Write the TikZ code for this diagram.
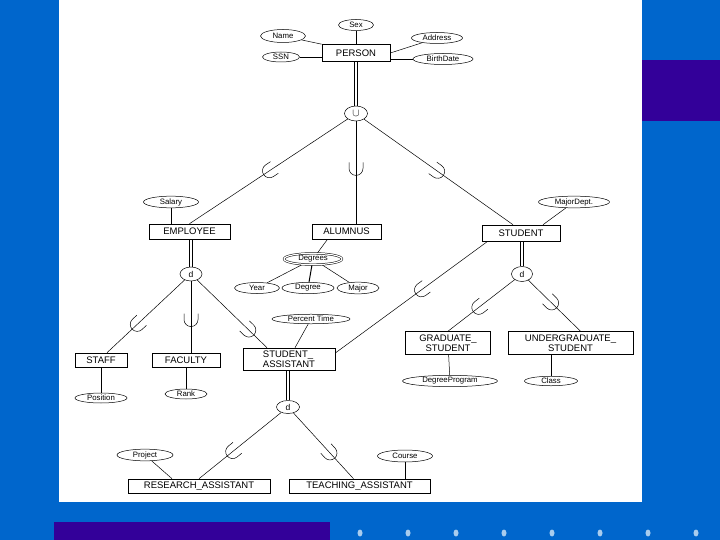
\documentclass[tikz,border=0pt]{standalone}
\usepackage{fontspec}
\setmainfont{Liberation Sans}
\usetikzlibrary{shapes.geometric}
\definecolor{slideblue}{HTML}{0066CC}
\definecolor{slidepurple}{HTML}{330099}
\definecolor{slidedot}{HTML}{A8CCEE}
\pgfdeclarelayer{links}
\pgfsetlayers{links,main}
\tikzset{
  subclassmark/.pic={\draw[line width=0.5pt] (-7,7) -- (-1,7) arc[start angle=90,end angle=-90,radius=7] -- (-7,-7);}
}

\begin{document}
\begin{tikzpicture}[x=1pt,y=1pt,
  entity/.style={draw,fill=white,line width=0.6pt,rectangle,inner sep=0pt,font=\fontsize{9.5}{10.5}\selectfont},
  attr/.style={draw,fill=white,line width=0.5pt,ellipse,inner sep=0.5pt,font=\fontsize{7.8}{8}\selectfont},
  disj/.style={draw,fill=white,line width=0.5pt,ellipse,inner sep=0pt,font=\fontsize{8.5}{8.5}\selectfont},
  link/.style={line width=0.5pt},
  dbl/.style={double,double distance=2.2pt,line width=0.55pt},
  sub/.style={pos=#1,sloped,allow upside down}]
  % slide background
  \begin{pgfonlayer}{links}
  \fill[slideblue] (0,0) rectangle (720,-540);
  \fill[white] (59,0) rectangle (642,-502);
  \fill[slidepurple] (642,-60) rectangle (720,-121);
  \fill[slidepurple] (54,-522) rectangle (330,-540);
  \foreach \i in {0,...,7}
    \fill[slidedot] ({360+48*\i},-533) ellipse (2.5 and 3.5);
  \end{pgfonlayer}

  % entities
  \node[entity,minimum width=68,minimum height=17] (person) at (356,-53) {PERSON};
  \node[entity,minimum width=81,minimum height=15] (employee) at (189.5,-231.5) {EMPLOYEE};
  \node[entity,minimum width=69,minimum height=15] (alumnus) at (346.5,-231.5) {ALUMNUS};
  \node[entity,minimum width=78,minimum height=16] (student) at (521,-233) {STUDENT};
  \node[entity,minimum width=52,minimum height=14] (staff) at (101,-360) {STAFF};
  \node[entity,minimum width=68,minimum height=14] (faculty) at (186,-360) {FACULTY};
  \node[entity,minimum width=92,minimum height=22,align=left] (stuasst) at (289,-359) {STUDENT\_\\ASSISTANT};
  \node[entity,minimum width=85,minimum height=23,align=center] (grad) at (448,-343) {GRADUATE\_\\STUDENT};
  \node[entity,minimum width=125,minimum height=23,align=center] (undergrad) at (570.5,-343) {UNDERGRADUATE\_\\STUDENT};
  \node[entity,minimum width=142,minimum height=14] (research) at (199,-486) {RESEARCH\_ASSISTANT};
  \node[entity,minimum width=141,minimum height=14] (teaching) at (359.5,-486) {TEACHING\_ASSISTANT};

  % attributes
  \node[attr,minimum width=35,minimum height=11] (sex) at (356,-25) {Sex};
  \node[attr,minimum width=45,minimum height=13] (name) at (283,-36) {Name};
  \node[attr,minimum width=37,minimum height=10] (ssn) at (281,-57) {SSN};
  \node[attr,minimum width=51,minimum height=11] (address) at (437,-38) {Address};
  \node[attr,minimum width=60,minimum height=11] (birthdate) at (443,-59) {BirthDate};
  \node[attr,minimum width=55,minimum height=10] (salary) at (171,-202) {Salary};
  \node[attr,minimum width=71,minimum height=10] (majordept) at (574,-202) {MajorDept.};
  \node[attr,double,double distance=1.2pt,minimum width=58,minimum height=11] (degrees) at (313,-259) {Degrees};
  \node[attr,minimum width=45,minimum height=11] (year) at (257,-288) {Year};
  \node[attr,minimum width=52,minimum height=11] (degree) at (308,-288) {Degree};
  \node[attr,minimum width=42,minimum height=11] (major) at (358,-288) {Major};
  \node[attr,minimum width=78,minimum height=9] (percent) at (311,-319) {Percent Time};
  \node[attr,minimum width=52,minimum height=10] (position) at (101,-398) {Position};
  \node[attr,minimum width=42,minimum height=10] (rank) at (186,-394) {Rank};
  \node[attr,minimum width=95,minimum height=9] (degprog) at (450,-381) {DegreeProgram};
  \node[attr,minimum width=53,minimum height=9] (class) at (551,-381) {Class};
  \node[attr,minimum width=56,minimum height=11] (project) at (145,-455) {Project};
  \node[attr,minimum width=55,minimum height=12] (course) at (405,-456) {Course};

  % specialization circles
  \node[disj,minimum width=23,minimum height=15,font=\fontsize{11}{11}\selectfont] (uni) at (356,-113.5) {$\cup$};
  \node[disj,minimum width=22,minimum height=14] (dempl) at (191,-274) {d};
  \node[disj,minimum width=21,minimum height=15] (dstud) at (522,-274) {d};
  \node[disj,minimum width=23,minimum height=13] (dassist) at (288,-407) {d};

  \begin{pgfonlayer}{links}
  % attribute links
  \draw[link] (sex) -- (person);
  \draw[link] (name) -- (person.north west);
  \draw[link] (ssn.east) -- (ssn.east -| person.west);
  \draw[link] (address) -- (person.east);
  \draw[link] (birthdate.west) -- (birthdate.west -| person.east);
  \draw[link] (salary) -- (salary |- employee.north);
  \draw[link] (majordept) -- ([xshift=22]student.north);
  \draw[link] ([xshift=-19]alumnus.south) -- (degrees);
  \draw[link] (degrees) -- (year);
  \draw[link,line width=1pt] (degrees) -- (degree);
  \draw[link] (degrees) -- (major);
  \draw[link] (percent) -- ([xshift=6]stuasst.north);
  \draw[link] (staff) -- (position);
  \draw[link] (faculty) -- (faculty |- rank.north);
  \draw[link] (grad) -- (degprog);
  \draw[link] (undergrad.south -| class) -- (class);
  \draw[link] (project) -- ([xshift=-27]research.north);
  \draw[link] (course) -- (course |- teaching.north);

  % superclass to circle
  \draw[dbl] (person) -- (uni);
  \draw[dbl] (employee.south -| dempl) -- (dempl);
  \draw[dbl] (student.south -| dstud) -- (dstud);
  \draw[dbl] (stuasst.south -| dassist) -- (dassist);

  % circle to subclasses
  \draw[link] (uni) -- (employee.north) pic[sub=0.5]{subclassmark};
  \draw[link] (uni) -- (uni |- alumnus.north) pic[sub=0.47]{subclassmark};
  \draw[link] (uni) -- ([xshift=-8]student.north) pic[sub=0.5]{subclassmark};
  \draw[link] (dempl) -- ([xshift=6]staff.north) pic[sub=0.62]{subclassmark};
  \draw[link] (dempl) -- (dempl |- faculty.north) pic[sub=0.55]{subclassmark};
  \draw[link] (dempl) -- ([xshift=-22]stuasst.north) pic[sub=0.75]{subclassmark};
  \draw[link] ([xshift=6]student.south west) -- ([yshift=6]stuasst.east) pic[sub=0.44]{subclassmark};
  \draw[link] (dstud) -- (grad.north) pic[sub=0.55]{subclassmark};
  \draw[link] (dstud) -- ([xshift=10]undergrad.north) pic[sub=0.46]{subclassmark};
  \draw[link] (dassist) -- (research.north) pic[sub=0.6]{subclassmark};
  \draw[link] (dassist) -- ([xshift=-6]teaching.north) pic[sub=0.62]{subclassmark};
  \end{pgfonlayer}
\end{tikzpicture}
\end{document}
